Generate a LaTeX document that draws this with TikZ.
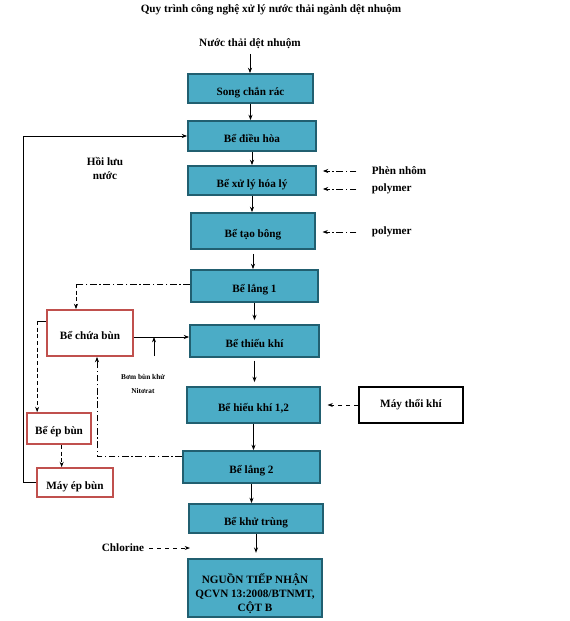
\documentclass[tikz,border=0pt]{standalone}
\usepackage{fontspec}
\setmainfont{Liberation Serif}
\usetikzlibrary{arrows.meta}
\definecolor{bongxanh}{HTML}{4BACC6}
\definecolor{vienxanh}{HTML}{215F70}
\definecolor{viendo}{HTML}{C0504D}
\tikzset{
  chu/.style={font=\bfseries\fontsize{8.4}{10.5}\selectfont},
  be/.style={chu, draw=vienxanh, line width=1.3pt, fill=bongxanh, inner sep=1pt, text height=10pt, text depth=0pt},
  bebun/.style={chu, draw=viendo, line width=1.3pt, fill=white, inner sep=1pt, text height=9pt, text depth=0pt},
  chamgach/.style={dash pattern=on 5pt off 2pt on 1pt off 2pt},
}
\begin{document}
\begin{tikzpicture}[x=0.75pt,y=-0.75pt,>={Stealth[length=4pt,width=3pt]},line width=0.6pt]
  \useasboundingbox (0,0) rectangle (569,621);
  \node[chu] (tieude) at (271,10) {Quy trình công nghệ xử lý nước thải ngành dệt nhuộm};
  \node[chu] (vao) at (250,44) {Nước thải dệt nhuộm};
  % day chinh
  \node[be, minimum width=93.75pt, minimum height=21.75pt] (song) at (250.5,88.5) {Song chắn rác};
  \node[be, minimum width=96pt, minimum height=22.5pt] (dieuhoa) at (252,136) {Bể điều hòa};
  \node[be, minimum width=96pt, minimum height=21.75pt] (hoaly) at (252,180.5) {Bể xử lý hóa lý};
  \node[be, minimum width=93pt, minimum height=27pt] (taobong) at (253,231) {Bể tạo bông};
  \node[be, minimum width=95.25pt, minimum height=24pt] (lang1) at (254.5,286) {Bể lắng 1};
  \node[be, minimum width=96.75pt, minimum height=24pt] (thieukhi) at (254.5,341) {Bể thiếu khí};
  \node[be, minimum width=99.75pt, minimum height=27pt] (hieukhi) at (253.5,405) {Bể hiếu khí 1,2};
  \node[be, minimum width=102.75pt, minimum height=24pt] (lang2) at (251.5,467) {Bể lắng 2};
  \node[be, minimum width=100.5pt, minimum height=21.75pt] (khutrung) at (256,518.5) {Bể khử trùng};
  \node[be, minimum width=100.5pt, minimum height=43.5pt, align=center, text height=35pt] (nguon) at (255,588)
    {NGUỒN TIẾP NHẬN\\QCVN 13:2008/BTNMT,\\CỘT B};
  \draw[->] (vao.south) -- (vao.south |- song.north);
  \draw[->] (song.south) -- (song.south |- dieuhoa.north);
  \draw[->] (dieuhoa.south) -- (dieuhoa.south |- hoaly.north);
  \draw[->] (hoaly.south) -- (hoaly.south |- taobong.north);
  \draw[->] ([yshift=-3pt]taobong.south) -- (taobong.south |- lang1.north);
  \draw[->] (lang1.south) -- ([yshift=3pt]lang1.south |- thieukhi.north);
  \draw[->] ([yshift=-2pt]thieukhi.south) -- ([yshift=3pt]thieukhi.south |- hieukhi.north);
  \draw[->] (hieukhi.south) -- (hieukhi.south |- lang2.north);
  \draw[->] (lang2.south) -- (lang2.south |- khutrung.north);
  \draw[->] (khutrung.south) -- ([yshift=4pt]khutrung.south |- nguon.north);
  % hoa chat
  \node[chu, anchor=west] (phen) at (367,171) {Phèn nhôm};
  \node[chu, anchor=west] (poly1) at (367,189) {polymer};
  \node[chu, anchor=west] (poly2) at (367,232) {polymer};
  \draw[chamgach,->] ([xshift=-8pt]phen.west) -- ([xshift=4.5pt]phen.west -| hoaly.east);
  \draw[chamgach,->] ([xshift=-8pt]poly1.west) -- ([xshift=4.5pt]poly1.west -| hoaly.east);
  \draw[chamgach,->] ([xshift=-8pt]poly2.west) -- ([xshift=5pt]poly2.west -| taobong.east);
  \node[chu, draw, line width=1.3pt, fill=white, minimum width=78pt, minimum height=27pt] (maythoi) at (411,405) {Máy thổi khí};
  \draw[dashed,->] (maythoi.west) -- ([xshift=5pt]hieukhi.east);
  \node[chu] (chlorine) at (123,548) {Chlorine};
  \coordinate (clo) at (190,548);
  \draw[dashed,->] (chlorine.east) -- (clo);
  % bun
  \node[bebun, minimum width=64.5pt, minimum height=34.5pt] (chuabun) at (90,333) {Bể chứa bùn};
  \node[bebun, minimum width=48pt, minimum height=23.25pt] (epbun) at (59,428.5) {Bể ép bùn};
  \node[bebun, minimum width=57pt, minimum height=21.75pt, text height=10pt] (mayep) at (75,482.5) {Máy ép bùn};
  \coordinate (goc1) at (76,284);
  \draw[chamgach] ([yshift=1.5pt]lang1.west) -- (goc1);
  \draw[densely dashed,->] (goc1) -- (goc1 |- chuabun.north);
  \draw[chamgach,->] ([yshift=8pt]lang2.west) -| ([xshift=5.25pt]chuabun.south);
  \draw ([yshift=9pt]chuabun.west) -- ++(-6.75pt,0) coordinate (goc2);
  \draw[densely dashed,->] (goc2) -- (goc2 |- epbun.north);
  \draw[densely dashed,->] ([xshift=2pt]epbun.south) -- ([xshift=2pt]epbun.south |- mayep.north);
  \draw[->] ([yshift=-3pt]chuabun.east) -- ([yshift=-3pt]chuabun.east -| thieukhi.west);
  \coordinate (bom) at (154,356);
  \draw[->] (bom) -- ([yshift=-3pt]bom |- chuabun.east);
  \node[font=\bfseries\fontsize{5.5}{10.5}\selectfont, align=center] (bomlabel) at (143,384) {Bơm bùn khử\\Nitơrat};
  % hoi luu
  \coordinate (hl) at (23,136);
  \draw[->] (mayep.west) -| (hl) -- (dieuhoa.west);
  \node[chu, align=center] (hoiluu) at (105,168) {Hồi lưu\\nước};
\end{tikzpicture}
\end{document}
